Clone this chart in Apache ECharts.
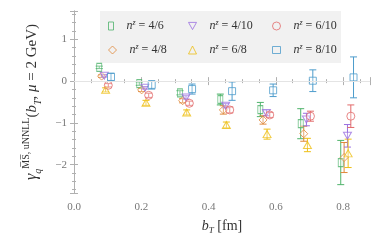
<!DOCTYPE html>
<html><head><meta charset="utf-8">
<script src="https://cdn.jsdelivr.net/npm/echarts@6/dist/echarts.min.js"></script>
<style>html,body{margin:0;padding:0;background:#fff}#c{width:382px;height:243px}</style>
</head><body><div id="c"></div>
<script>
const seriesNames = ['4/6','4/8','4/10','6/8','6/10','8/10'];
const bT_46  = [0.075,0.194,0.315,0.435,0.554,0.674,0.793];
const val_46 = [0.33,-0.06,-0.28,-0.44,-0.68,-1.02,-1.95];
const err_46 = [0.03,0.04,0.05,0.13,0.17,0.36,0.53];
const bT_48  = [0.082,0.201,0.323,0.444,0.562,0.683,0.803];
const val_48 = [0.12,-0.21,-0.47,-0.69,-0.93,-1.26,-1.83];
const err_48 = [0.03,0.04,0.05,0.10,0.10,0.18,0.36];
const bT_410  = [0.090,0.211,0.333,0.451,0.572,0.691,0.813];
const val_410 = [0.13,-0.16,-0.39,-0.59,-0.76,-0.92,-1.31];
const err_410 = [0.03,0.03,0.04,0.05,0.07,0.15,0.27];
const bT_68  = [0.094,0.214,0.335,0.453,0.574,0.694,0.815];
const val_68 = [-0.21,-0.52,-0.75,-1.05,-1.27,-1.53,-1.73];
const err_68 = [0.05,0.06,0.06,0.07,0.12,0.16,0.34];
const bT_610  = [0.102,0.222,0.343,0.463,0.582,0.703,0.823];
const val_610 = [-0.10,-0.34,-0.53,-0.69,-0.81,-0.84,-0.84];
const err_610 = [0.04,0.05,0.05,0.07,0.06,0.12,0.27];
const bT_810  = [0.110,0.231,0.351,0.470,0.592,0.710,0.831];
const val_810 = [0.10,-0.09,-0.19,-0.24,-0.22,0.01,0.09];
const err_810 = [0.09,0.10,0.12,0.22,0.15,0.26,0.49];
const xTicks = [0.0,0.2,0.4,0.6,0.8];
const yTicks = [-2,-1,0,1];

const sets = [
  {name:'4/6', x:bT_46, y:val_46, e:err_46, color:'#4fb36b', symbol:'rect', size:[5,8]},
  {name:'4/8', x:bT_48, y:val_48, e:err_48, color:'#e0883a', symbol:'diamond', size:8},
  {name:'4/10', x:bT_410, y:val_410, e:err_410, color:'#9a6fe0', symbol:'path://M0,0 L10,0 L5,9 Z', size:[8,7]},
  {name:'6/8', x:bT_68, y:val_68, e:err_68, color:'#eebf16', symbol:'triangle', size:[8,7]},
  {name:'6/10', x:bT_610, y:val_610, e:err_610, color:'#e26a6a', symbol:'circle', size:8},
  {name:'8/10', x:bT_810, y:val_810, e:err_810, color:'#4d9ccc', symbol:'rect', size:7}
];
const serif = '"Liberation Serif","DejaVu Serif",serif';
const series = [];
sets.forEach((s,k)=>{
  const data = s.x.map((x,i)=>[x, s.y[i], s.y[i]-s.e[i], s.y[i]+s.e[i]]);
  series.push({
    type:'custom', name:s.name+'_err', silent:true, z:2,
    data:data,
    encode:{x:0,y:[2,3]},
    renderItem:function(params, api){
      const x = api.value(0);
      const lo = api.coord([x, api.value(2)]);
      const hi = api.coord([x, api.value(3)]);
      const w = 3.5;
      const st = {stroke:s.color, lineWidth:1, fill:null};
      return {type:'group', children:[
        {type:'line', shape:{x1:lo[0],y1:lo[1],x2:hi[0],y2:hi[1]}, style:st},
        {type:'line', shape:{x1:lo[0]-w,y1:lo[1],x2:lo[0]+w,y2:lo[1]}, style:st},
        {type:'line', shape:{x1:hi[0]-w,y1:hi[1],x2:hi[0]+w,y2:hi[1]}, style:st}
      ]};
    }
  });
  const sc = {
    type:'scatter', name:s.name, z:3,
    data:s.x.map((x,i)=>[x, s.y[i]]),
    symbol:s.symbol, symbolSize:s.size,
    itemStyle:{color:'rgba(255,255,255,0.35)', borderColor:s.color, borderWidth:1},
    emphasis:{disabled:true}
  };
  if (k===0) {
    sc.markLine = {silent:true, symbol:'none', label:{show:false},
      lineStyle:{color:'#e4e4e4', width:1, type:'solid'}, data:[{yAxis:0}]};
  }
  series.push(sc);
});

const legendPos = {
  '4/6':[108,19], '4/10':[188,19], '6/10':[272,19],
  '4/8':[108,43], '6/8':[188,43], '8/10':[272,43]
};
const legends = sets.map(s=>({
  data:[{name:s.name, icon:s.symbol, itemStyle:{color:'rgba(255,255,255,0)', borderColor:s.color, borderWidth:1}}],
  left:legendPos[s.name][0], top:legendPos[s.name][1],
  itemWidth:s.name==='4/6' ? 5 : 8,
  itemHeight:s.name==='4/6' ? 8 : (s.name==='8/10' ? 7 : 8),
  padding:0, selectedMode:false,
  formatter:function(n){return '{i|n}{sup|z}{t| = '+n+'}';},
  textStyle:{fontFamily:serif, fontSize:12, color:'#333', padding:[0,0,0,8],
    rich:{
      i:{fontFamily:serif, fontStyle:'italic', fontSize:12, color:'#333'},
      sup:{fontFamily:serif, fontStyle:'italic', fontSize:8, color:'#333', verticalAlign:'top', lineHeight:14, padding:[0,0,4,0]},
      t:{fontFamily:serif, fontSize:12, color:'#333'}
    }}
}));

const axLine = {show:true, lineStyle:{color:'#b0b0b0', width:1}};
const chart = echarts.init(document.getElementById('c'), null, {renderer:'canvas'});
chart.setOption({
  animation:false,
  backgroundColor:'#fff',
  grid:{left:74, right:12, top:11, bottom:50, show:false},
  graphic:[{type:'rect', shape:{x:100, y:11, width:241, height:52}, style:{fill:'#f1f1f1'}, z:-1, silent:true}],
  legend:legends,
  xAxis:[{
    type:'value', min:0, max:0.88, interval:0.2,
    axisLine:axLine,
    axisTick:{show:true, inside:true, length:4, lineStyle:{color:'#b0b0b0'}},
    minorTick:{show:true, splitNumber:4, length:2, lineStyle:{color:'#b0b0b0'}},
    splitLine:{show:false},
    axisLabel:{fontFamily:serif, fontSize:11, color:'#777', margin:9,
      showMaxLabel:false,
      formatter:function(v){return xTicks.some(t=>Math.abs(t-v)<1e-9)? v.toFixed(1):'';}},
    name:'{i|b}{sub|T}{t| [fm]}', nameLocation:'middle', nameGap:25,
    nameTextStyle:{fontFamily:serif, fontSize:14, color:'#333',
      rich:{i:{fontFamily:serif, fontStyle:'italic', fontSize:14, color:'#333'},
            sub:{fontFamily:serif, fontStyle:'italic', fontSize:9, color:'#333', verticalAlign:'bottom', lineHeight:17, padding:[4,0,0,0]},
            t:{fontFamily:serif, fontSize:14, color:'#333'}}}
  },{
    type:'value', position:'top', min:0, max:0.88, interval:0.2,
    axisLine:axLine,
    axisTick:{show:true, inside:true, length:4, lineStyle:{color:'#b0b0b0'}},
    minorTick:{show:true, splitNumber:4, length:2, lineStyle:{color:'#b0b0b0'}},
    splitLine:{show:false}, axisLabel:{show:false}
  }],
  yAxis:[{
    type:'value', min:-2.68, max:1.68, splitNumber:5,
    axisLine:axLine,
    axisTick:{show:true, inside:true, length:4, lineStyle:{color:'#b0b0b0'}},
    minorTick:{show:true, splitNumber:5, length:2, lineStyle:{color:'#b0b0b0'}},
    splitLine:{show:false},
    axisLabel:{fontFamily:serif, fontSize:11, color:'#777', margin:7,
      formatter:function(v){
        if (!yTicks.some(t=>Math.abs(t-v)<1e-9)) return '';
        return v<0 ? '\u2212'+Math.abs(v) : String(v);}},
    name:'{g|γ}{sub|q}{sup|M̅S̅, uNNLL}{t|(}{i|b}{sub|T}{t|, }{i|μ}{t| = 2 GeV)}',
    nameLocation:'middle', nameGap:31, nameRotate:90,
    nameTextStyle:{fontFamily:serif, fontSize:15, color:'#333',
      rich:{g:{fontFamily:serif, fontStyle:'italic', fontSize:16, color:'#333'},
            i:{fontFamily:serif, fontStyle:'italic', fontSize:15, color:'#333'},
            sub:{fontFamily:serif, fontStyle:'italic', fontSize:10, color:'#333', verticalAlign:'bottom', lineHeight:22},
            sup:{fontFamily:serif, fontSize:10, color:'#333', verticalAlign:'top', lineHeight:22},
            t:{fontFamily:serif, fontSize:15, color:'#333'}}}
  },{
    type:'value', position:'right', min:-2.68, max:1.68, splitNumber:5,
    axisLine:axLine,
    axisTick:{show:true, inside:true, length:4, lineStyle:{color:'#b0b0b0'}},
    minorTick:{show:true, splitNumber:5, length:2, lineStyle:{color:'#b0b0b0'}},
    splitLine:{show:false}, axisLabel:{show:false}
  }],
  series:series
});
</script></body></html>
